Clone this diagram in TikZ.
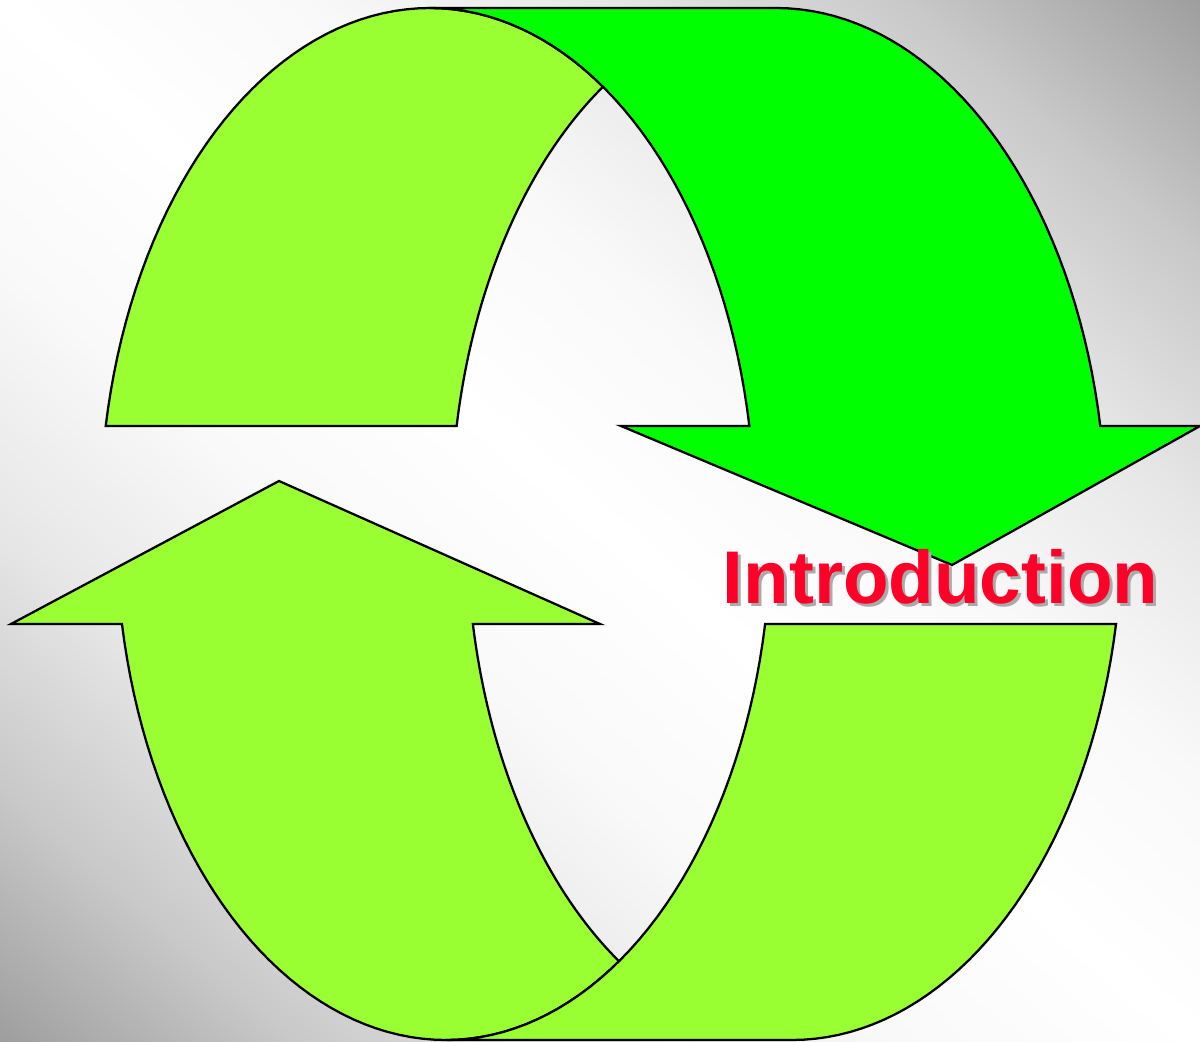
\documentclass[tikz,border=0pt]{standalone}
\usepackage{fontspec}
\setmainfont{Liberation Sans}
\definecolor{lgreen}{RGB}{153,255,51}
\definecolor{dgreen}{RGB}{0,255,0}
\definecolor{bggray}{RGB}{158,158,158}
\definecolor{bgA}{RGB}{249,249,249}
\definecolor{bgB}{RGB}{231,231,231}
\definecolor{bgC}{RGB}{201,201,201}
\definecolor{introred}{RGB}{255,0,40}
\definecolor{shadowgray}{RGB}{170,170,170}
\pgfdeclareverticalshading{bgshade}{100bp}{%
  color(0bp)=(bggray); color(25bp)=(bggray); color(31.25bp)=(bgC);
  color(37.5bp)=(bgB); color(43.75bp)=(bgA); color(50bp)=(white);
  color(56.25bp)=(bgA); color(62.5bp)=(bgB); color(68.75bp)=(bgC);
  color(75bp)=(bggray); color(100bp)=(bggray)}
\tikzset{
  lgpart/.style={fill=lgreen,draw=black,line width=1.7pt,line join=miter},
  dgpart/.style={fill=dgreen,draw=black,line width=1.7pt,line join=miter},
  bigtext/.style={font=\bfseries\fontsize{56}{60}\selectfont,inner sep=0pt,anchor=base},
  el/.style={samples=40,variable=\t}
}
\begin{document}
\begin{tikzpicture}[x=0.75pt,y=-0.75pt]
\useasboundingbox (0,0) rectangle (1200,1042);
% background: grey in the top-right and bottom-left corners, white along the other diagonal
\begin{scope}
  \clip (0,0) rectangle (1200,1042);
  \shade[transform canvas={rotate around={-40.97:(600,521)}},shading=bgshade]
    (-600,-266) rectangle (1800,1308);
\end{scope}

% ---------- top arrow ----------
% light green band (behind)
\filldraw[lgpart]
  plot[el,domain=190.67:270] ({430+330*cos(\t)},{521+513*sin(\t)})
  -- plot[el,domain=270:302.2] ({430+325*cos(\t)},{521+513*sin(\t)})
  -- plot[el,domain=237.8:190.67] ({776+325*cos(\t)},{521+513*sin(\t)})
  -- cycle;
% green band with head (front)
\filldraw[dgpart] (430,8) -- (776,8)
  -- plot[el,domain=270:349.33] ({776+330*cos(\t)},{521+513*sin(\t)})
  -- (1200,426) -- (952,565) -- (621,426)
  -- plot[el,domain=349.33:270] ({430+325*cos(\t)},{521+513*sin(\t)})
  -- cycle;

% ---------- bottom arrow ----------
% left band with head (behind)
\filldraw[lgpart] (11,624) -- (279,481) -- (600,624)
  -- plot[el,domain=169.1:122.2] ({792+325*cos(\t)},{527+513*sin(\t)})
  -- plot[el,domain=57.8:90] ({446+325*cos(\t)},{527+513*sin(\t)})
  -- plot[el,domain=90:169.1] ({446+330*cos(\t)},{527+513*sin(\t)})
  -- cycle;
% right band (front)
\filldraw[lgpart]
  plot[el,domain=10.9:90] ({792+330*cos(\t)},{527+513*sin(\t)})
  -- plot[el,domain=90:10.9] ({446+325*cos(\t)},{527+513*sin(\t)})
  -- cycle;

% label
\node[bigtext,text=shadowgray] (introshadow) at (943.5,606) {Introduction};
\node[bigtext,text=introred] (intro) at (940.5,603) {Introduction};
\end{tikzpicture}
\end{document}
